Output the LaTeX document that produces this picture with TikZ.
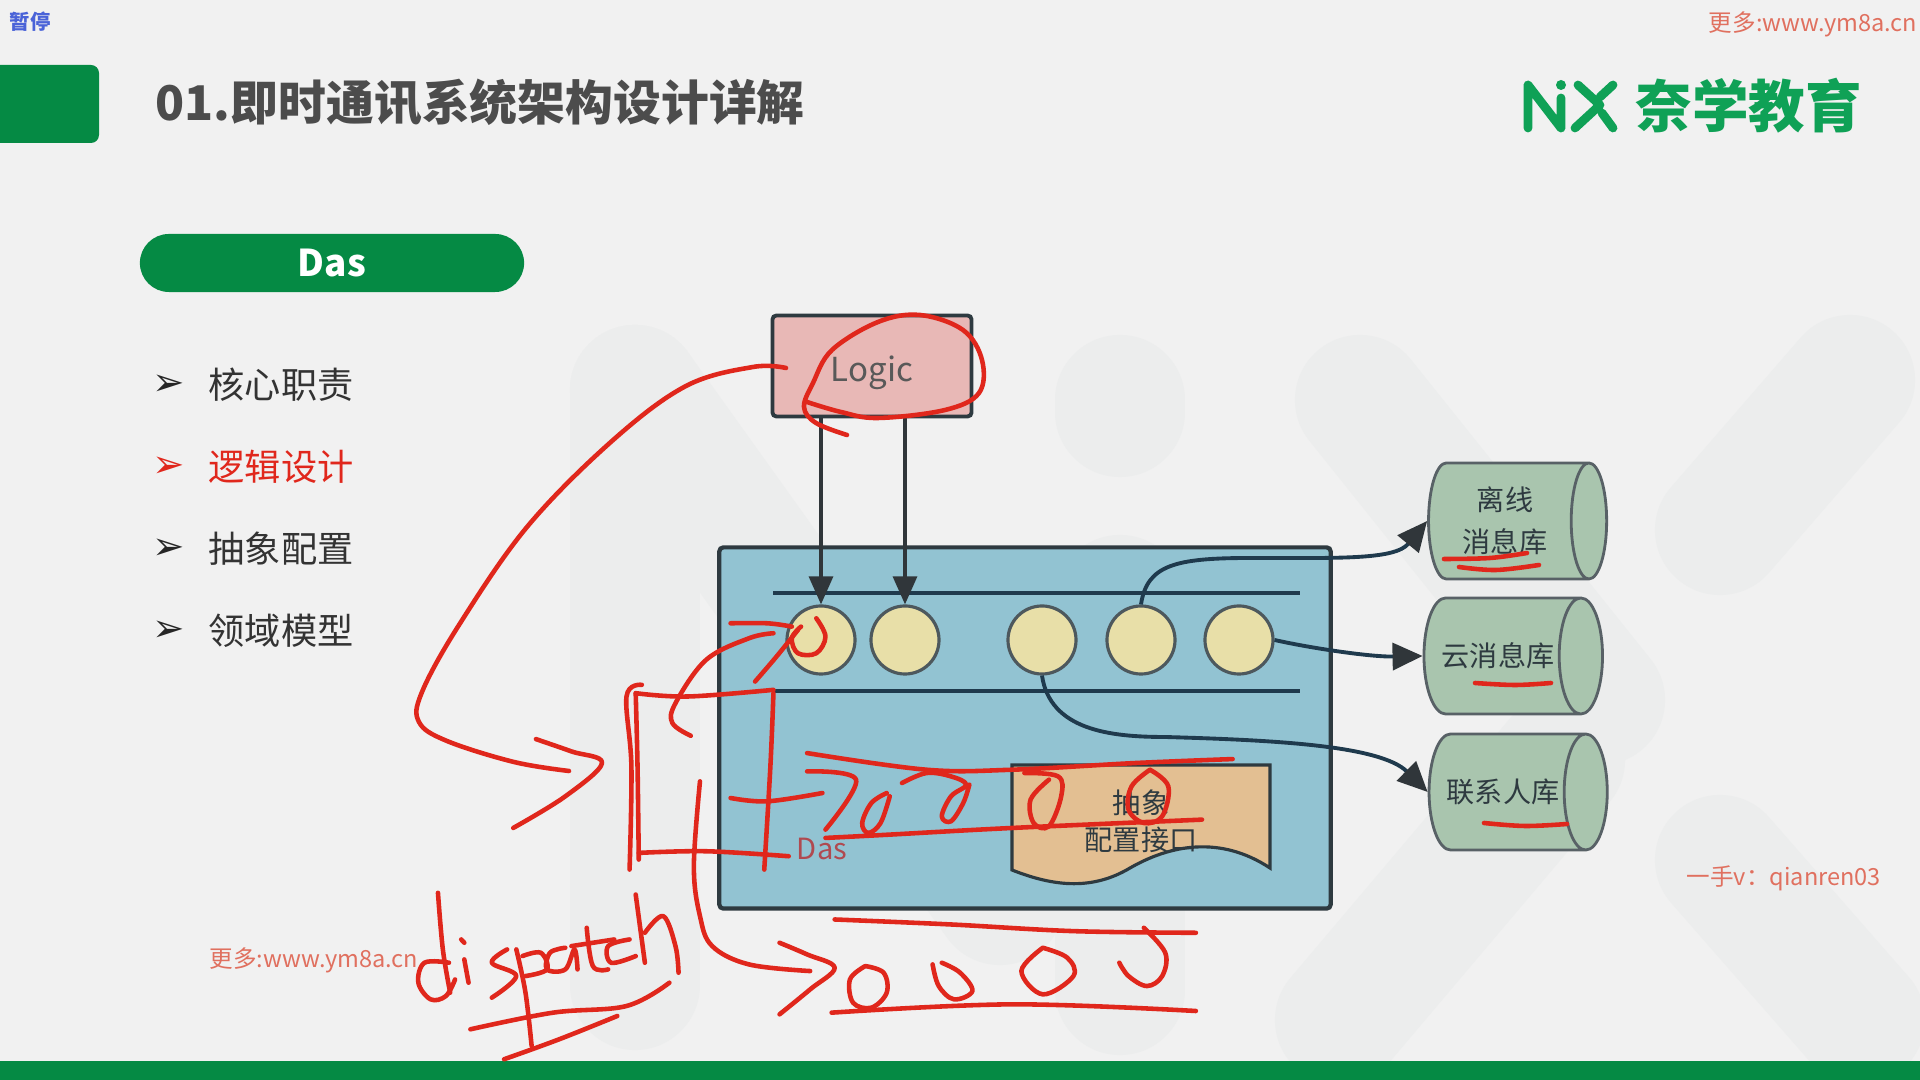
\documentclass[tikz,border=0pt]{standalone}
\usepackage{fontspec}
\setmainfont{Noto Sans CJK SC}
\newfontfamily\arrowfont{DejaVu Sans}
\usepackage{xcolor}
\usetikzlibrary{arrows.meta}
\usetikzlibrary{shapes.geometric}
\definecolor{pagebg}{HTML}{F1F1F1}
\definecolor{ghost}{HTML}{ECEDED}
\definecolor{nxgreen}{HTML}{058A44}
\definecolor{logogreen}{HTML}{0FA156}
\definecolor{ink}{HTML}{E0271C}
\definecolor{markred}{HTML}{E0705F}
\definecolor{linedark}{HTML}{2E3A40}
\definecolor{navy}{HTML}{1F3A4D}
\definecolor{headdark}{HTML}{30363A}
\definecolor{discfill}{HTML}{E8DFA8}
\definecolor{storefill}{HTML}{A9C5AE}
\tikzset{
  ghostline/.style={draw=ghost, line width=37pt, line cap=round},
  listitem/.style={anchor=west, inner sep=0pt, text=black!80, font=\fontsize{10.3pt}{12pt}\selectfont},
  listmark/.style={text=black!85, inner sep=0pt, font=\arrowfont\fontsize{11pt}{12pt}\selectfont},
  webmark/.style={text=markred, inner sep=0pt, font=\fontsize{6.7pt}{8pt}\selectfont},
  disc/.style={circle, draw=linedark!85, fill=discfill, line width=0.9pt, inner sep=0pt, minimum size=0.68cm},
  store/.style={cylinder, draw=linedark!80, fill=storefill, line width=0.8pt,
    minimum height=1.78cm, minimum width=1.16cm, inner sep=1pt, align=center, text=linedark,
    font=\fontsize{8pt}{12pt}\selectfont},
  link/.style={draw=navy, line width=1.1pt, -{Triangle[length=0.3cm,width=0.27cm,color=headdark]}},
  feed/.style={draw=headdark, line width=0.9pt, -{Triangle[length=0.28cm,width=0.24cm]}},
  rail/.style={draw=navy, line width=1pt},
  logobar/.style={draw=logogreen, line width=2.5pt, line cap=round, line join=round},
  pen/.style={draw=ink, line width=1.3pt, line cap=round, line join=round},
  crop/.style={shift={(400,600)}, x=0.006124cm, y=-0.003333cm},
}
\newcommand{\inkline}[1]{\draw[pen] plot[smooth,tension=0.6] coordinates {#1};}
\begin{document}
\begin{tikzpicture}[x=0.01cm,y=-0.01cm]
  \useasboundingbox (0,0) rectangle (1920,1080);
  \fill[pagebg] (0,0) rectangle (1920,1080);
  % faint logo behind the slide
  \draw[ghostline] (635,390) -- (635,985);
  \draw[ghostline] (635,390) -- (1000,900);
  \draw[ghostline] (1120,400) -- (1120,412);
  \draw[ghostline] (1120,600) -- (1120,990);
  \draw[ghostline] (1360,400) -- (1600,700);
  \draw[ghostline] (1340,1020) -- (1560,760);
  \draw[ghostline] (1720,860) -- (1860,1020);
  \draw[ghostline] (1850,380) -- (1720,530);

  % header
  \node[text={rgb,255:red,74;green,99;blue,216}, font=\bfseries\fontsize{5.8pt}{7pt}\selectfont] (pause) at (30,22) {暂停};
  \node[webmark, anchor=east] (webtop) at (1918,24) {更多:www.ym8a.cn};
  \fill[nxgreen, rounded corners=0.08cm] (-20,65) rectangle (99,143);
  \node[anchor=west, inner sep=0pt, text=black!70, font=\bfseries\fontsize{13.6pt}{16pt}\selectfont] (title) at (155,102) {01.即时通讯系统架构设计详解};
  \draw[logobar] (1528,85) -- (1528,128) (1528,85) -- (1561,128) (1561,98) -- (1561,128);
  \fill[logogreen] (1561,85) circle (5);
  \draw[logobar] (1578,85) -- (1600,105) -- (1575,128) (1613,85) -- (1600,97) (1602,113) -- (1613,128);
  \node[anchor=west, inner sep=0pt, text=logogreen, font=\bfseries\fontsize{16.1pt}{18pt}\selectfont] (brand) at (1635,106) {奈学教育};

  % left column
  \node[fill=nxgreen, rounded corners=0.29cm, minimum width=3.84cm, minimum height=0.58cm, inner sep=0pt,
    text=white, font=\bfseries\fontsize{10.5pt}{12pt}\selectfont] (tag) at (332,263) {Das};
  \node[listmark] (m1) at (169,385) {➢};
  \node[listitem] (t1) at (208,385) {核心职责};
  \node[listmark, text=ink] (m2) at (169,467) {➢};
  \node[listitem, text=ink] (t2) at (208,467) {逻辑设计};
  \node[listmark] (m3) at (169,549) {➢};
  \node[listitem] (t3) at (208,549) {抽象配置};
  \node[listmark] (m4) at (169,631) {➢};
  \node[listitem] (t4) at (208,631) {领域模型};
  \node[webmark, anchor=west] (webleft) at (209,960) {更多:www.ym8a.cn};
  \node[webmark, anchor=west] (qq) at (1686,878) {一手v：qianren03};

  % boxes
  \node[draw=linedark, fill={rgb,255:red,232;green,184;blue,182}, line width=1.1pt, rounded corners=0.04cm,
    minimum width=1.99cm, minimum height=1.01cm] (logic) at (872,366) {};
  \node[text=black!65, font=\fontsize{9.4pt}{11pt}\selectfont] (logictext) at (872,373) {Logic};
  \node[draw=linedark, fill={rgb,255:red,146;green,195;blue,210}, line width=1.2pt, rounded corners=0.04cm,
    minimum width=6.11cm, minimum height=3.61cm] (das) at (1025,728) {};
  \coordinate (railA) at (773,593);
  \coordinate (railB) at (1300,593);
  \coordinate (railC) at (773,691);
  \coordinate (railD) at (1300,691);
  \draw[rail] (railA) -- (railB);
  \draw[rail] (railC) -- (railD);
  \foreach \n/\x in {c1/821,c2/905,c3/1042,c4/1141,c5/1239}
    \node[disc] (\n) at (\x,640) {};
  \filldraw[draw=linedark, fill={rgb,255:red,227;green,191;blue,146}, line width=0.9pt]
    (1012,765) -- (1270,765) -- (1270,868) .. controls (1220,835) and (1170,845) .. (1130,868)
    .. controls (1090,892) and (1050,885) .. (1012,870) -- cycle;
  \node[text=linedark, font=\fontsize{8pt}{10pt}\selectfont] (absA) at (1141,803) {抽象};
  \node[text=linedark, font=\fontsize{8pt}{10pt}\selectfont] (absB) at (1141,840) {配置接口};
  \node[text={rgb,255:red,176;green,74;blue,80}, font=\fontsize{8.3pt}{10pt}\selectfont] (daslabel) at (822,849) {Das};
  \node[store, aspect=0.47] (off) at (1505,521) {离线\\消息库};
  \node[store, aspect=1.3] (cloud) at (1498,656) {云消息库};
  \node[store, aspect=1.3] (contact) at (1503,792) {联系人库};

  % connectors
  \draw[feed] (logic.south -| c1.north) -- (c1.north);
  \draw[feed] (logic.south -| c2.north) -- (c2.north);
  \draw[link] (c4.north) .. controls (1147,565) and (1175,558) .. (1250,558)
    .. controls (1340,558) and (1395,560) .. (off.west);
  \draw[link] (c5.east) .. controls (1310,648) and (1370,657) .. (cloud.west);
  \draw[link] (c3.south) .. controls (1050,730) and (1110,737) .. (1165,737)
    .. controls (1270,740) and (1380,745) .. (contact.west);

  \fill[nxgreen] (0,1061) rectangle (1920,1080);

  % red pen, in full px
  \inkline{(786,368) (753,367) (686,386) (612,441) (527,527) (459,625) (422,692) (419,722) (447,741) (514,762) (569,771)}
  \inkline{(847,435) (816,423) (804,407) (813,383) (832,350) (878,322) (920,315) (963,330) (982,360) (979,393) (945,410) (878,418) (841,412) (807,402)}
  \inkline{(1444,559) (1490,558) (1527,553)}
  \inkline{(1459,567) (1496,570) (1539,565)}
  \inkline{(1475,683) (1515,685) (1551,683)}
  \inkline{(1484,823) (1525,826) (1567,824)}
  % red pen, in crop px
  \begin{scope}[crop]
    \inkline{(222,418) (280,455) (330,490) (270,590) (185,685)}
    \inkline{(375,810) (378,500) (370,290) (395,255)}
    \inkline{(390,780) (388,500) (385,280)}
    \inkline{(385,280) (470,290) (610,270)}
    \inkline{(610,280) (605,500) (595,810)}
    \inkline{(390,760) (500,755) (635,770)}
    \inkline{(540,595) (600,605) (690,580)}
    \inkline{(490,545) (480,800) (490,950) (510,1040) (570,1095) (670,1115)}
    \inkline{(620,1030) (665,1065) (710,1105) (670,1170) (620,1245)}
    \inkline{(475,408) (445,370) (450,310) (500,180) (570,115) (610,100)}
    \inkline{(540,70) (600,70) (640,80)}
    \inkline{(650,90) (615,170) (580,245)}
    \inkline{(680,55) (695,110) (680,160) (650,160) (640,115) (655,80)}
    \inkline{(665,460) (860,510) (1000,510) (1200,490) (1360,478)}
    \inkline{(695,715) (800,705) (1000,685) (1310,660)}
    \inkline{(665,515) (745,540) (695,690)}
    \inkline{(795,580) (770,610) (755,670) (765,700) (785,670) (800,590)}
    \inkline{(820,550) (860,520) (900,530) (925,555) (900,590) (885,650) (900,665) (920,610) (930,555)}
    \inkline{(1020,520) (1075,530) (1080,590) (1060,680) (1035,670) (1030,600) (1060,540)}
    \inkline{(1225,510) (1255,560) (1245,650) (1215,670) (1190,630) (1195,560) (1225,510)}
    \inkline{(710,960) (900,975) (1100,995) (1300,1000)}
    \inkline{(705,1240) (1000,1215) (1300,1235)}
    \inkline{(760,1100) (735,1140) (740,1210) (770,1225) (795,1180) (790,1120) (760,1100)}
    \inkline{(870,1095) (880,1160) (905,1200) (935,1175) (915,1120) (885,1090)}
    \inkline{(1050,1045) (1015,1115) (1050,1185) (1100,1130) (1090,1075) (1050,1045)}
    \inkline{(1215,985) (1250,1060) (1245,1130) (1220,1160) (1190,1130) (1175,1090)}
    % dispatch
    \inkline{(62,880) (70,1050) (82,1180)}
    \inkline{(80,1090) (40,1090) (30,1150) (50,1200) (75,1190) (90,1140)}
    \inkline{(105,1080) (112,1150)}
    \inkline{(100,1020) (105,1030)}
    \inkline{(175,1050) (150,1090) (190,1130) (150,1195)}
    \inkline{(190,1050) (205,1180) (215,1340)}
    \inkline{(200,1070) (230,1060) (240,1110) (205,1130)}
    \inkline{(270,1045) (245,1060) (240,1110) (270,1110) (285,1050) (290,1110)}
    \inkline{(305,985) (315,1100) (340,1110)}
    \inkline{(280,1040) (350,1020)}
    \inkline{(375,1020) (340,1040) (345,1090) (385,1070)}
    \inkline{(385,885) (400,1090)}
    \inkline{(400,1000) (430,950) (450,1040) (455,1120)}
    \inkline{(115,1290) (250,1240) (370,1220) (440,1150)}
    \inkline{(170,1380) (260,1320) (355,1250)}
  \end{scope}
\end{tikzpicture}
\end{document}
